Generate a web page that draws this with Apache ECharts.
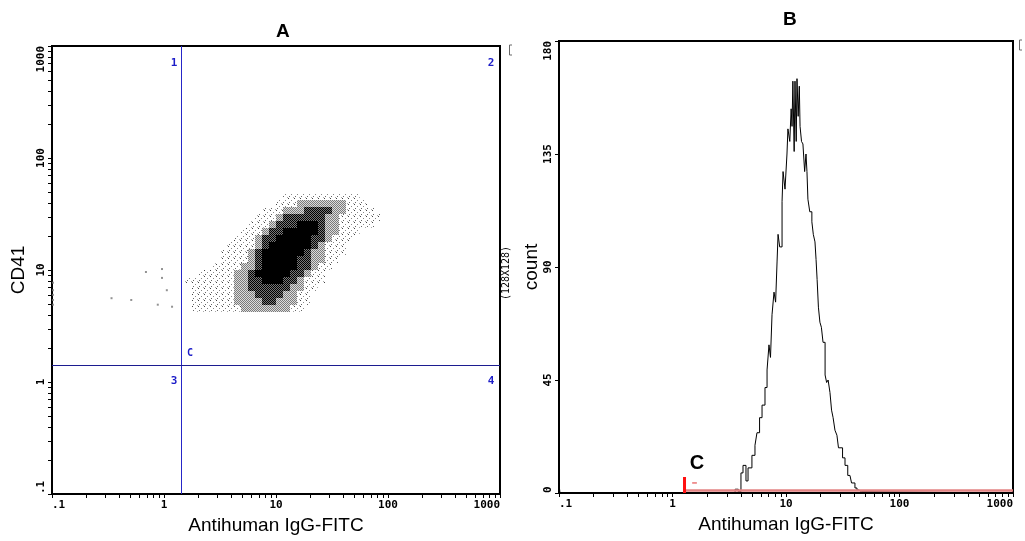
<!DOCTYPE html>
<html>
<head>
<meta charset="utf-8">
<title>CD41 / Antihuman IgG-FITC</title>
<script src="https://cdn.jsdelivr.net/npm/echarts@6/dist/echarts.min.js"></script>
<style>
  html, body { margin: 0; background: #fff; }
  #main { width: 1025px; height: 541px; }
</style>
</head>
<body>
<div id="main"></div>
<script>
// tick labels
const logTickLabels = ['.1', '1', '10', '100', '1000']
const countTickLabels = ['0', '45', '90', '135', '180']
const minorTickValues = [0.2, 0.3, 0.4, 0.5, 0.6, 0.7, 0.8, 0.9,
  2, 3, 4, 5, 6, 7, 8, 9, 20, 30, 40, 50, 60, 70, 80, 90,
  200, 300, 400, 500, 600, 700, 800, 900]

// panel A: quadrant marker (same on both axes)
const quadrantCut = 1.42

// panel A: density, 16 channels per decade
// columns start at channel 19 (x = 10^(-1 + 19/16)), first row is channel 42 of y
// '.' empty, 1 sparse dots, 2 grey, 3 dark grey, 4 black
const densityFirstCol = 19
const densityTopRow = 42
const densityRows = [
  '..............11111111111....',
  '.............1112222222111...',
  '...........1112223333221111..',
  '..........111233333322111111.',
  '.........111233344432211111..',
  '........11123344444322111....',
  '.......11123344444332111.....',
  '......11112344444432111......',
  '.....111123444444322111......',
  '.....11112344444332211.......',
  '....11112234444433211........',
  '..111112234444433211.........',
  '11111112233444332111.........',
  '.111111223333332211..........',
  '.11111122233332211...........',
  '.11111122223322211...........',
  '.1111111222222211............'
]

// panel A: stray events in quadrant 1
const strayEvents = [
  [0.69, 9.6], [0.96, 10.2], [0.96, 8.5], [1.06, 6.6], [0.34, 5.6], [0.51, 5.4],
  [0.88, 4.9], [1.18, 4.7], [0.102, 7.7], [0.102, 6.6], [0.102, 6.0], [0.102, 5.4], [0.102, 4.9]
]

// panel B: histogram
const histX = [0.1, 0.102, 3.3, 3.56, 3.8, 4.01, 4.18, 4.44, 4.63, 5.01, 5.33, 5.55, 5.85,
  6.15, 6.53, 6.81, 7.08, 7.3, 7.53, 7.84, 8.1, 8.34, 8.51, 8.8, 9.23, 9.42, 9.8,
  10.2, 10.4, 10.8, 11.1, 11.3, 11.5, 11.8, 12.0, 12.3, 12.5, 12.8, 13.1, 13.3, 13.7,
  14.1, 14.6, 15.0, 15.3, 15.6, 16.2, 16.9, 17.4, 18.0, 18.4, 18.8, 19.3, 19.9, 20.5,
  21.2, 22.1, 22.8, 23.5, 24.4, 25.2, 26.0, 27.0, 28.1, 29.0, 29.9, 31.5, 33.1, 35.0,
  36.6, 37.8, 38.9, 40.5, 42.2, 44, 46, 1000]
const histCount = [3.5, 0, 0, 1.5, 0.5, 8, 11, 4.8, 10, 15, 19, 24, 30,
  35, 42, 49, 59, 54, 71, 80, 76, 92, 103, 98, 116, 128, 121,
  135, 145, 140, 153, 146, 164, 136, 164, 140, 165, 150, 162, 146, 140,
  139, 128, 135, 128, 117, 112, 108, 103, 100, 93, 85, 74, 68, 66,
  60, 47, 44, 45, 40, 33, 30, 25, 23, 18, 18, 14, 11, 7,
  7, 4, 4, 2, 1.2, 0.5, 0, 0]

// panel B: gate C
const gateLine = [[1.29, 1], [1000, 1]]
const gateMarker = [[1.276, 0], [1.276, 6.4]]
const gateDash = [[1.49, 4], [1.64, 4]]

const monoFont = 'DejaVu Sans Mono'
const sansFont = 'Liberation Sans'

function makePattern (size, pixels) {
  const c = document.createElement('canvas')
  c.width = size
  c.height = size
  const g = c.getContext('2d')
  pixels.forEach(p => {
    g.fillStyle = p[2]
    g.fillRect(p[0], p[1], 1, 1)
  })
  return { image: c, repeat: 'repeat' }
}

const levelFill = [
  null,
  makePattern(6, [[0, 0, '#444'], [3, 2, '#888'], [1, 4, '#666'], [5, 5, '#aaa']]),
  makePattern(2, [[0, 0, '#7a7a7a'], [1, 1, '#7a7a7a'], [1, 0, '#dcdcdc'], [0, 1, '#dcdcdc']]),
  makePattern(2, [[0, 0, '#000'], [1, 1, '#000'], [1, 0, '#777'], [0, 1, '#777']]),
  '#000'
]

const densityCells = []
densityRows.forEach((row, r) => {
  const j = densityTopRow - r
  for (let k = 0; k < row.length; k++) {
    const lv = row[k] === '.' ? 0 : +row[k]
    if (!lv) continue
    const i = densityFirstCol + k
    densityCells.push([
      Math.pow(10, -1 + i / 16), Math.pow(10, -1 + (i + 1) / 16),
      Math.pow(10, -1 + j / 16), Math.pow(10, -1 + (j + 1) / 16), lv
    ])
  }
})

function logLabel (v) {
  return logTickLabels[Math.round(Math.log10(v)) + 1]
}

function logAxis (gridIndex) {
  return {
    type: 'log',
    gridIndex: gridIndex,
    min: 0.1,
    max: 1000,
    logBase: 10,
    name: 'Antihuman IgG-FITC',
    nameLocation: 'middle',
    nameGap: 17,
    nameTextStyle: { fontFamily: sansFont, fontSize: 19, color: '#000' },
    axisLine: { lineStyle: { color: '#000', width: 2 } },
    axisTick: { length: 4, lineStyle: { color: '#000' } },
    axisLabel: {
      formatter: logLabel,
      fontFamily: monoFont, fontWeight: 'bold', fontSize: 11, color: '#000',
      margin: 6, alignMinLabel: 'left', alignMaxLabel: 'right'
    },
    splitLine: { show: false }
  }
}

const labelStyle = { fontFamily: monoFont, fontWeight: 'bold', fontSize: 11, color: '#000' }

function minorTicks (gridIndex, withY) {
  return {
    type: 'custom',
    xAxisIndex: gridIndex,
    yAxisIndex: gridIndex,
    clip: false,
    silent: true,
    data: minorTickValues.map(v => [v, 1]),
    encode: { x: 0, y: 1 },
    renderItem (params, api) {
      const cs = params.coordSys
      const v = api.value(0)
      const px = Math.round(api.coord([v, 1])[0]) + 0.5
      const bottom = cs.y + cs.height
      const children = [{
        type: 'line',
        shape: { x1: px, y1: bottom, x2: px, y2: bottom + 4 },
        style: { stroke: '#000', lineWidth: 1 }
      }]
      if (withY) {
        const py = Math.round(api.coord([1, v])[1]) + 0.5
        children.push({
          type: 'line',
          shape: { x1: cs.x, y1: py, x2: cs.x - 4, y2: py },
          style: { stroke: '#000', lineWidth: 1 }
        })
      }
      return { type: 'group', children: children }
    }
  }
}

// quadrant lines, snapped to whole pixels so the blue stays crisp
function quadrantLines () {
  return {
    type: 'custom',
    xAxisIndex: 0,
    yAxisIndex: 0,
    silent: true,
    data: [[quadrantCut, quadrantCut]],
    encode: { x: 0, y: 1 },
    renderItem (params, api) {
      const cs = params.coordSys
      const p = api.coord([api.value(0), api.value(1)])
      const px = Math.round(p[0]) + 0.5
      const py = Math.round(p[1]) + 0.5
      return {
        type: 'group',
        children: [
          { type: 'line', shape: { x1: px, y1: cs.y, x2: px, y2: cs.y + cs.height }, style: { stroke: '#2626c8', lineWidth: 1 } },
          { type: 'line', shape: { x1: cs.x, y1: py, x2: cs.x + cs.width, y2: py }, style: { stroke: '#1c1c90', lineWidth: 1 } }
        ]
      }
    }
  }
}

const chart = echarts.init(document.getElementById('main'))

const option = {
  animation: false,
  backgroundColor: '#fff',
  title: [
    { text: 'A', left: 271, top: 17, textStyle: { fontFamily: sansFont, fontSize: 19, fontWeight: 'bold', color: '#000' } },
    { text: 'B', left: 778, top: 5, textStyle: { fontFamily: sansFont, fontSize: 19, fontWeight: 'bold', color: '#000' } }
  ],
  grid: [
    { left: 52, top: 46, width: 448, height: 448, show: true, borderColor: '#000', borderWidth: 2, backgroundColor: '#fff' },
    { left: 559, top: 41, width: 454, height: 452, show: true, borderColor: '#000', borderWidth: 2, backgroundColor: '#fff' }
  ],
  xAxis: [logAxis(0), logAxis(1)],
  yAxis: [
    {
      type: 'log',
      gridIndex: 0,
      min: 0.1,
      max: 1000,
      logBase: 10,
      name: 'CD41',
      nameLocation: 'middle',
      nameGap: 24,
      nameTextStyle: { fontFamily: sansFont, fontSize: 19, color: '#000' },
      axisLine: { lineStyle: { color: '#000', width: 2 } },
      axisTick: { length: 4, lineStyle: { color: '#000' } },
      axisLabel: Object.assign({ formatter: logLabel, rotate: 90, margin: 5, alignMinLabel: 'left', alignMaxLabel: 'right' }, labelStyle),
      splitLine: { show: false }
    },
    {
      type: 'value',
      gridIndex: 1,
      min: 0,
      max: 180,
      interval: 45,
      name: 'count',
      nameLocation: 'middle',
      nameGap: 18,
      nameTextStyle: { fontFamily: sansFont, fontSize: 19, color: '#000' },
      axisLine: { lineStyle: { color: '#000', width: 2 } },
      axisTick: { length: 4, lineStyle: { color: '#000' } },
      axisLabel: Object.assign({
        formatter: v => countTickLabels[Math.round(v / 45)],
        rotate: 90, margin: 5, alignMinLabel: 'left', alignMaxLabel: 'right'
      }, labelStyle),
      splitLine: { show: false }
    }
  ],
  series: [
    {
      type: 'custom',
      name: 'density',
      xAxisIndex: 0,
      yAxisIndex: 0,
      silent: true,
      data: densityCells,
      encode: { x: [0, 1], y: [2, 3] },
      renderItem (params, api) {
        const a = api.coord([api.value(0), api.value(3)])
        const b = api.coord([api.value(1), api.value(2)])
        const x0 = Math.round(a[0])
        const y0 = Math.round(a[1])
        return {
          type: 'rect',
          shape: { x: x0, y: y0, width: Math.round(b[0]) - x0, height: Math.round(b[1]) - y0 },
          style: { fill: levelFill[api.value(4)] }
        }
      }
    },
    {
      type: 'scatter',
      name: 'stray',
      xAxisIndex: 0,
      yAxisIndex: 0,
      symbol: 'rect',
      symbolSize: 2,
      itemStyle: { color: '#777' },
      silent: true,
      data: strayEvents
    },
    quadrantLines(),
    minorTicks(0, true),
    {
      type: 'line',
      name: 'histogram',
      xAxisIndex: 1,
      yAxisIndex: 1,
      step: 'end',
      symbol: 'none',
      silent: true,
      lineStyle: { color: '#000', width: 1 },
      data: histX.map((x, i) => [x, histCount[i]])
    },
    {
      type: 'line',
      name: 'gate',
      xAxisIndex: 1,
      yAxisIndex: 1,
      symbol: 'none',
      silent: true,
      lineStyle: { color: '#e38383', width: 2.5 },
      data: gateLine
    },
    {
      type: 'line',
      name: 'gate marker',
      xAxisIndex: 1,
      yAxisIndex: 1,
      symbol: 'none',
      silent: true,
      lineStyle: { color: '#ff1010', width: 3 },
      data: gateMarker
    },
    {
      type: 'line',
      name: 'gate dash',
      xAxisIndex: 1,
      yAxisIndex: 1,
      symbol: 'none',
      silent: true,
      lineStyle: { color: '#e03030', width: 1 },
      data: gateDash
    },
    minorTicks(1, false)
  ],
  graphic: [
    { type: 'text', x: 174, y: 63, style: { text: '1', fill: '#1d1dc8', font: 'bold 11px "DejaVu Sans Mono"', align: 'center', verticalAlign: 'middle' } },
    { type: 'text', x: 491, y: 63, style: { text: '2', fill: '#1d1dc8', font: 'bold 11px "DejaVu Sans Mono"', align: 'center', verticalAlign: 'middle' } },
    { type: 'text', x: 174, y: 381, style: { text: '3', fill: '#1d1dc8', font: 'bold 11px "DejaVu Sans Mono"', align: 'center', verticalAlign: 'middle' } },
    { type: 'text', x: 491, y: 381, style: { text: '4', fill: '#1d1dc8', font: 'bold 11px "DejaVu Sans Mono"', align: 'center', verticalAlign: 'middle' } },
    { type: 'text', x: 190, y: 353, style: { text: 'C', fill: '#1d1dc8', font: 'bold 10px "DejaVu Sans Mono"', align: 'center', verticalAlign: 'middle' } },
    { type: 'text', x: 506, y: 273, rotation: Math.PI / 2, style: { text: '(128X128)', fill: '#000', font: '10px "DejaVu Sans Mono"', align: 'center', verticalAlign: 'middle' } },
    { type: 'text', x: 697, y: 463, style: { text: 'C', fill: '#000', font: 'bold 20px "Liberation Sans"', align: 'center', verticalAlign: 'middle' } },
    { type: 'polyline', shape: { points: [[512, 45], [509.5, 45], [509.5, 55], [512, 55]] }, style: { stroke: '#666', fill: null, lineWidth: 1 } },
    { type: 'polyline', shape: { points: [[1022, 40], [1019.5, 40], [1019.5, 50], [1022, 50]] }, style: { stroke: '#666', fill: null, lineWidth: 1 } }
  ]
}

chart.setOption(option)
</script>
</body>
</html>
